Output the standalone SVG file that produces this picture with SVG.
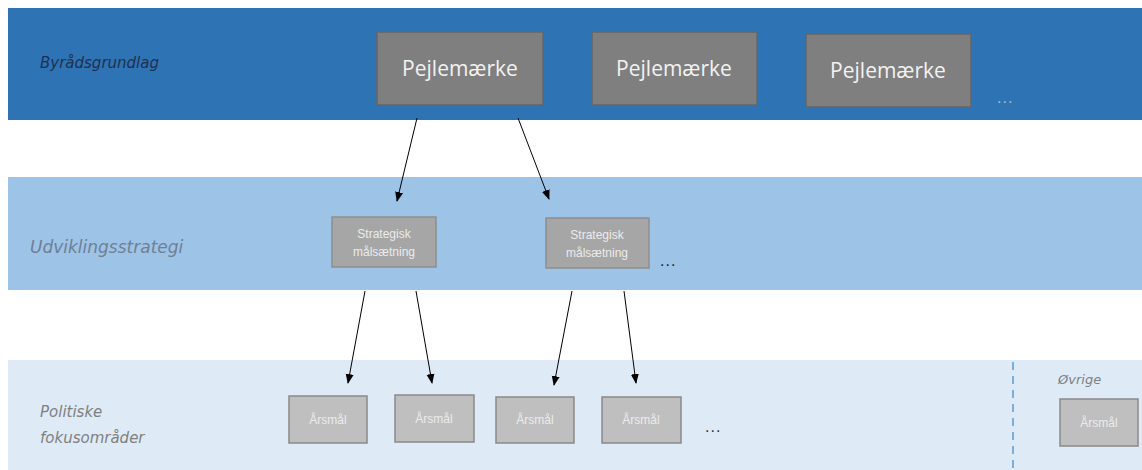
<svg xmlns="http://www.w3.org/2000/svg" width="1142" height="470" viewBox="0 0 1142 470">
<style>
.hand{font-family:"DejaVu Sans","Liberation Sans",sans-serif;font-style:italic}
.pm rect{fill:#7f7f7f;stroke:#666;stroke-width:1.5}
.pm text{fill:#f2f2f2;font-family:"Open Sans","Liberation Sans",sans-serif;font-size:21px;text-anchor:middle}
.sm rect{fill:#a6a6a6;stroke:#8e8e8e;stroke-width:1.5}
.sm text{fill:#ececec;font-family:"Liberation Sans",sans-serif;font-size:12px;text-anchor:middle}
.am rect{fill:#bfbfbf;stroke:#8a8a8a;stroke-width:1.5}
.am text{fill:#ececec;font-family:"Liberation Sans",sans-serif;font-size:12px;text-anchor:middle}
.dots{font-family:"Liberation Sans",sans-serif;font-size:16px;letter-spacing:1px}
#connectors line{stroke:#000;stroke-width:1}
</style>
<defs>
<marker id="ah" markerWidth="10" markerHeight="10" refX="9" refY="5" orient="auto" markerUnits="userSpaceOnUse">
<path d="M0,1 L10,5 L0,9 Z" fill="#000"/>
</marker>
</defs>
<rect width="1142" height="470" fill="#fff"/>
<rect x="8" y="8" width="1134" height="112" fill="#2e74b5"/>
<rect x="8" y="177" width="1134" height="113" fill="#9dc3e6"/>
<rect x="8" y="360" width="1134" height="110" fill="#deebf7"/>
<line x1="1013" y1="362" x2="1013" y2="470" stroke="#5b9bd5" stroke-width="1.5" stroke-dasharray="8,6"/>
<text class="hand" x="40" y="68" font-size="15" fill="#1f3050">Byrådsgrundlag</text>
<text class="hand" x="30" y="253" font-size="17" fill="#6f7f96">Udviklingsstrategi</text>
<text class="hand" x="40" y="417" font-size="15" fill="#808080">Politiske</text>
<text class="hand" x="40" y="443" font-size="15" fill="#808080">fokusområder</text>
<text class="hand" x="1058" y="384" font-size="13" fill="#808080">Øvrige</text>
<g id="pm1" class="pm"><rect x="377" y="32" width="166" height="73"/><text x="460" y="76">Pejlemærke</text></g>
<g id="pm2" class="pm"><rect x="592" y="32" width="165" height="73"/><text x="674" y="76">Pejlemærke</text></g>
<g id="pm3" class="pm"><rect x="806" y="34" width="165" height="73"/><text x="888" y="78">Pejlemærke</text></g>
<text class="dots" x="997" y="103" fill="#a9bdd4">...</text>
<g id="sm1" class="sm"><rect x="332" y="217" width="104" height="50"/><text x="384" y="238">Strategisk</text><text x="384" y="256">målsætning</text></g>
<g id="sm2" class="sm"><rect x="546" y="218" width="103" height="50"/><text x="597" y="239">Strategisk</text><text x="597" y="257">målsætning</text></g>
<text class="dots" x="660" y="266" fill="#222">...</text>
<g id="am1" class="am"><rect x="289" y="396" width="78" height="47"/><text x="328" y="424">Årsmål</text></g>
<g id="am2" class="am"><rect x="395" y="395" width="79" height="47"/><text x="434" y="423">Årsmål</text></g>
<g id="am3" class="am"><rect x="496" y="397" width="78" height="46"/><text x="535" y="424">Årsmål</text></g>
<g id="am4" class="am"><rect x="602" y="397" width="79" height="46"/><text x="641" y="424">Årsmål</text></g>
<text class="dots" x="705" y="432" fill="#333">...</text>
<g id="am5" class="am"><rect x="1060" y="399" width="78" height="47"/><text x="1099" y="427">Årsmål</text></g>
<g id="connectors">
<line x1="417" y1="118" x2="397" y2="201" marker-end="url(#ah)"/>
<line x1="518" y1="118" x2="549" y2="199" marker-end="url(#ah)"/>
<line x1="365" y1="291" x2="348" y2="383" marker-end="url(#ah)"/>
<line x1="416" y1="291" x2="432" y2="383" marker-end="url(#ah)"/>
<line x1="572" y1="291" x2="554" y2="385" marker-end="url(#ah)"/>
<line x1="624" y1="291" x2="636" y2="383" marker-end="url(#ah)"/>
</g>
</svg>
